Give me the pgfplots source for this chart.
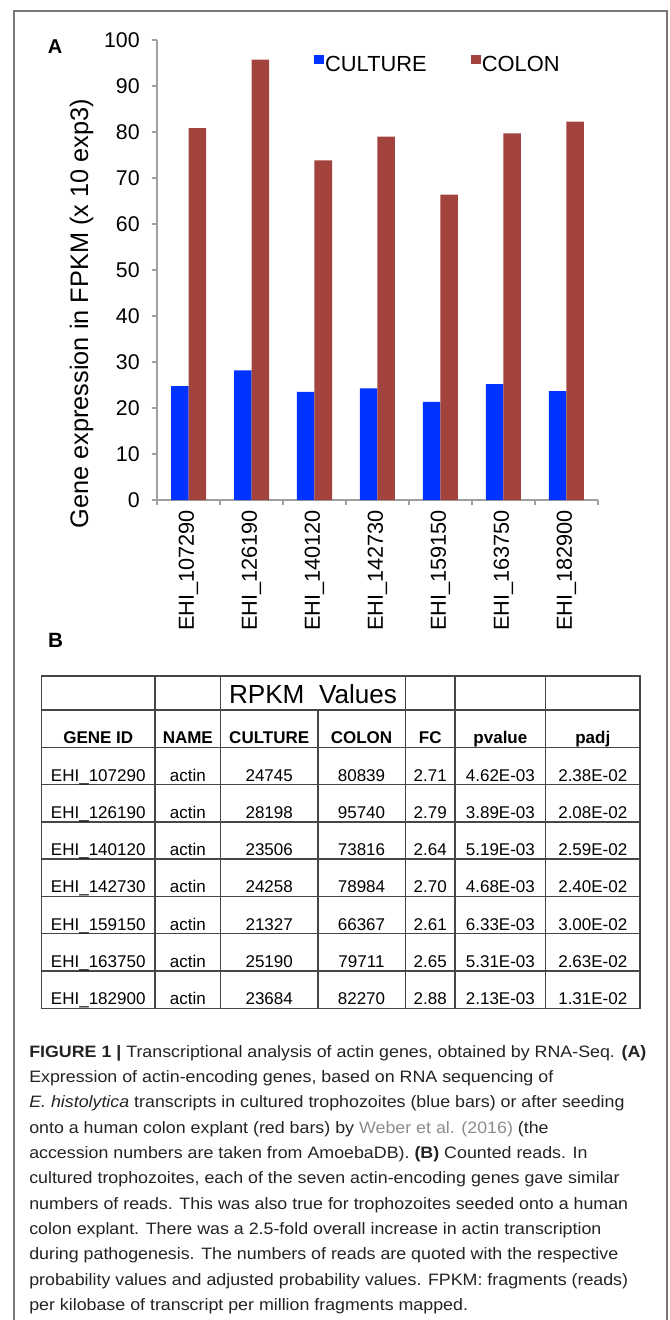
\documentclass[border=0pt]{standalone}
\usepackage{pgfplots}
\pgfplotsset{compat=1.18}
\usepackage{fontspec}
\setmainfont{Liberation Sans}
\newfontfamily\capfont[FakeStretch=1.08]{Liberation Sans}
\definecolor{cblue}{RGB}{0,51,255}
\definecolor{cred}{RGB}{163,67,61}
\definecolor{axgray}{RGB}{160,160,160}
\definecolor{framegray}{RGB}{120,120,120}
\definecolor{tabline}{RGB}{70,70,70}
\definecolor{refgray}{RGB}{140,140,140}
\definecolor{captext}{RGB}{35,35,35}
\newcommand{\fsz}[1]{\fontsize{#1}{#1}\selectfont}
\begin{document}
\begin{tikzpicture}
\path[use as bounding box] (0,0) rectangle (501.75pt,-990pt);
\begin{axis}[
  at={(117.75pt,-375pt)}, anchor=south west,
  scale only axis, width=330.75pt, height=345pt,
  xmin=-0.5, xmax=6.5, ymin=0, ymax=100,
  axis lines*=left,
  axis line style={axgray, line width=1.1pt},
  ybar=0pt, bar width=13.125pt,
  xtick={-0.5,0.5,...,6.5},
  x tick label as interval,
  xticklabels={EHI\_107290,EHI\_126190,EHI\_140120,EHI\_142730,EHI\_159150,EHI\_163750,EHI\_182900},
  ytick={0,10,...,100},
  tick align=outside,
  major tick length=4pt,
  tick style={axgray, line width=0.9pt},
  xticklabel style={rotate=90, anchor=east, font=\fsz{16.3pt}},
  yticklabel style={font=\fsz{16pt}, xshift=-5.5pt},
  /pgf/number format/assume math mode=true,
  ylabel={Gene expression in FPKM (x 10 exp3)},
  ylabel style={at={(axis description cs:-0.171,0.405)}, anchor=center, font=\fsz{19pt}},
  legend columns=2,
  legend style={at={(rel axis cs:0.3465,0.974)}, anchor=north west, draw=none, fill=none,
    font=\fsz{16.4pt}, /tikz/every even column/.append style={column sep=32pt},
    nodes={inner sep=1pt}},
  legend image code/.code={\fill[#1] (-2pt,0.05em) rectangle (5.3pt,0.75em);},
]
\addplot[fill=cblue, draw=none] coordinates {(0,24.745) (1,28.198) (2,23.506) (3,24.258) (4,21.327) (5,25.190) (6,23.684)};
\addplot[fill=cred, draw=none] coordinates {(0,80.839) (1,95.740) (2,73.816) (3,78.984) (4,66.367) (5,79.711) (6,82.270)};
\addlegendentry{CULTURE}
\addlegendentry{COLON}
\end{axis}
\begin{scope}[x=0.75pt,y=-0.75pt]
  % frame
  \draw[framegray, line width=0.9pt] (14,1325) -- (14,11) -- (667,11) -- (667,1325);
  % panel letters
  \node[font=\bfseries\fsz{15pt}] at (55,47) {A};
  \node[font=\bfseries\fsz{15.5pt}] at (55.5,640) {B};
  % table
  \begin{scope}[tabline, line width=1.1pt]
    \draw (41.5,676) rectangle (640,1008.3);
    \draw (41.5,710) -- (640,710);
    \foreach \k in {0,...,6} {\draw (41.5,747.3+37.29*\k) -- (640,747.3+37.29*\k);}
    \foreach \xx in {155,220.6,405.3,455.2,545.6} {\draw (\xx,676) -- (\xx,1008.3);}
    \draw (317.8,710) -- (317.8,1008.3);
  \end{scope}
  \node[anchor=base, font=\fsz{19.6pt}] at (313,703.3) {RPKM\ \ Values};
  \begin{scope}[every node/.style={anchor=base, font=\bfseries\fsz{12.75pt}}]
    \node at (98.25,743.3) {GENE ID};
    \node at (187.8,743.3) {NAME};
    \node at (269.2,743.3) {CULTURE};
    \node at (361.5,743.3) {COLON};
    \node at (430.2,743.3) {FC};
    \node at (500.4,743.3) {pvalue};
    \node at (592.8,743.3) {padj};
  \end{scope}
  \begin{scope}[every node/.style={anchor=base, font=\fsz{12.75pt}}]
    \foreach \g/\c/\o/\f/\p/\q [count=\i] in {
      107290/24745/80839/2.71/4.62E-03/2.38E-02,
      126190/28198/95740/2.79/3.89E-03/2.08E-02,
      140120/23506/73816/2.64/5.19E-03/2.59E-02,
      142730/24258/78984/2.70/4.68E-03/2.40E-02,
      159150/21327/66367/2.61/6.33E-03/3.00E-02,
      163750/25190/79711/2.65/5.31E-03/2.63E-02,
      182900/23684/82270/2.88/2.13E-03/1.31E-02} {
      \pgfmathsetmacro{\yb}{747.3+37.29*\i-3.5}
      \node at (98.25,\yb) {EHI\_\g};
      \node at (187.8,\yb) {actin};
      \node at (269.2,\yb) {\c};
      \node at (361.5,\yb) {\o};
      \node at (430.2,\yb) {\f};
      \node at (500.4,\yb) {\p};
      \node at (592.8,\yb) {\q};
    }
  \end{scope}
  % caption
  \begin{scope}[every node/.style={anchor=base west, inner sep=0pt, text=captext, font=\capfont\fsz{12.375pt}}]
    \node at (29,1057.3) {\textbf{FIGURE 1 |} Transcriptional analysis of actin genes, obtained by RNA-Seq. \textbf{(A)}};
    \node at (29,1082.6) {Expression of actin-encoding genes, based on RNA sequencing of};
    \node at (29,1107.9) {\textit{E. histolytica} transcripts in cultured trophozoites (blue bars) or after seeding};
    \node at (29,1133.2) {onto a human colon explant (red bars) by \textcolor{refgray}{Weber et al. (2016)} (the};
    \node at (29,1158.5) {accession numbers are taken from AmoebaDB). \textbf{(B)} Counted reads. In};
    \node at (29,1183.8) {cultured trophozoites, each of the seven actin-encoding genes gave similar};
    \node at (29,1209.1) {numbers of reads. This was also true for trophozoites seeded onto a human};
    \node at (29,1234.4) {colon explant. There was a 2.5-fold overall increase in actin transcription};
    \node at (29,1259.7) {during pathogenesis. The numbers of reads are quoted with the respective};
    \node at (29,1285.0) {probability values and adjusted probability values. FPKM: fragments (reads)};
    \node at (29,1310.3) {per kilobase of transcript per million fragments mapped.};
  \end{scope}
\end{scope}
\end{tikzpicture}
\end{document}
